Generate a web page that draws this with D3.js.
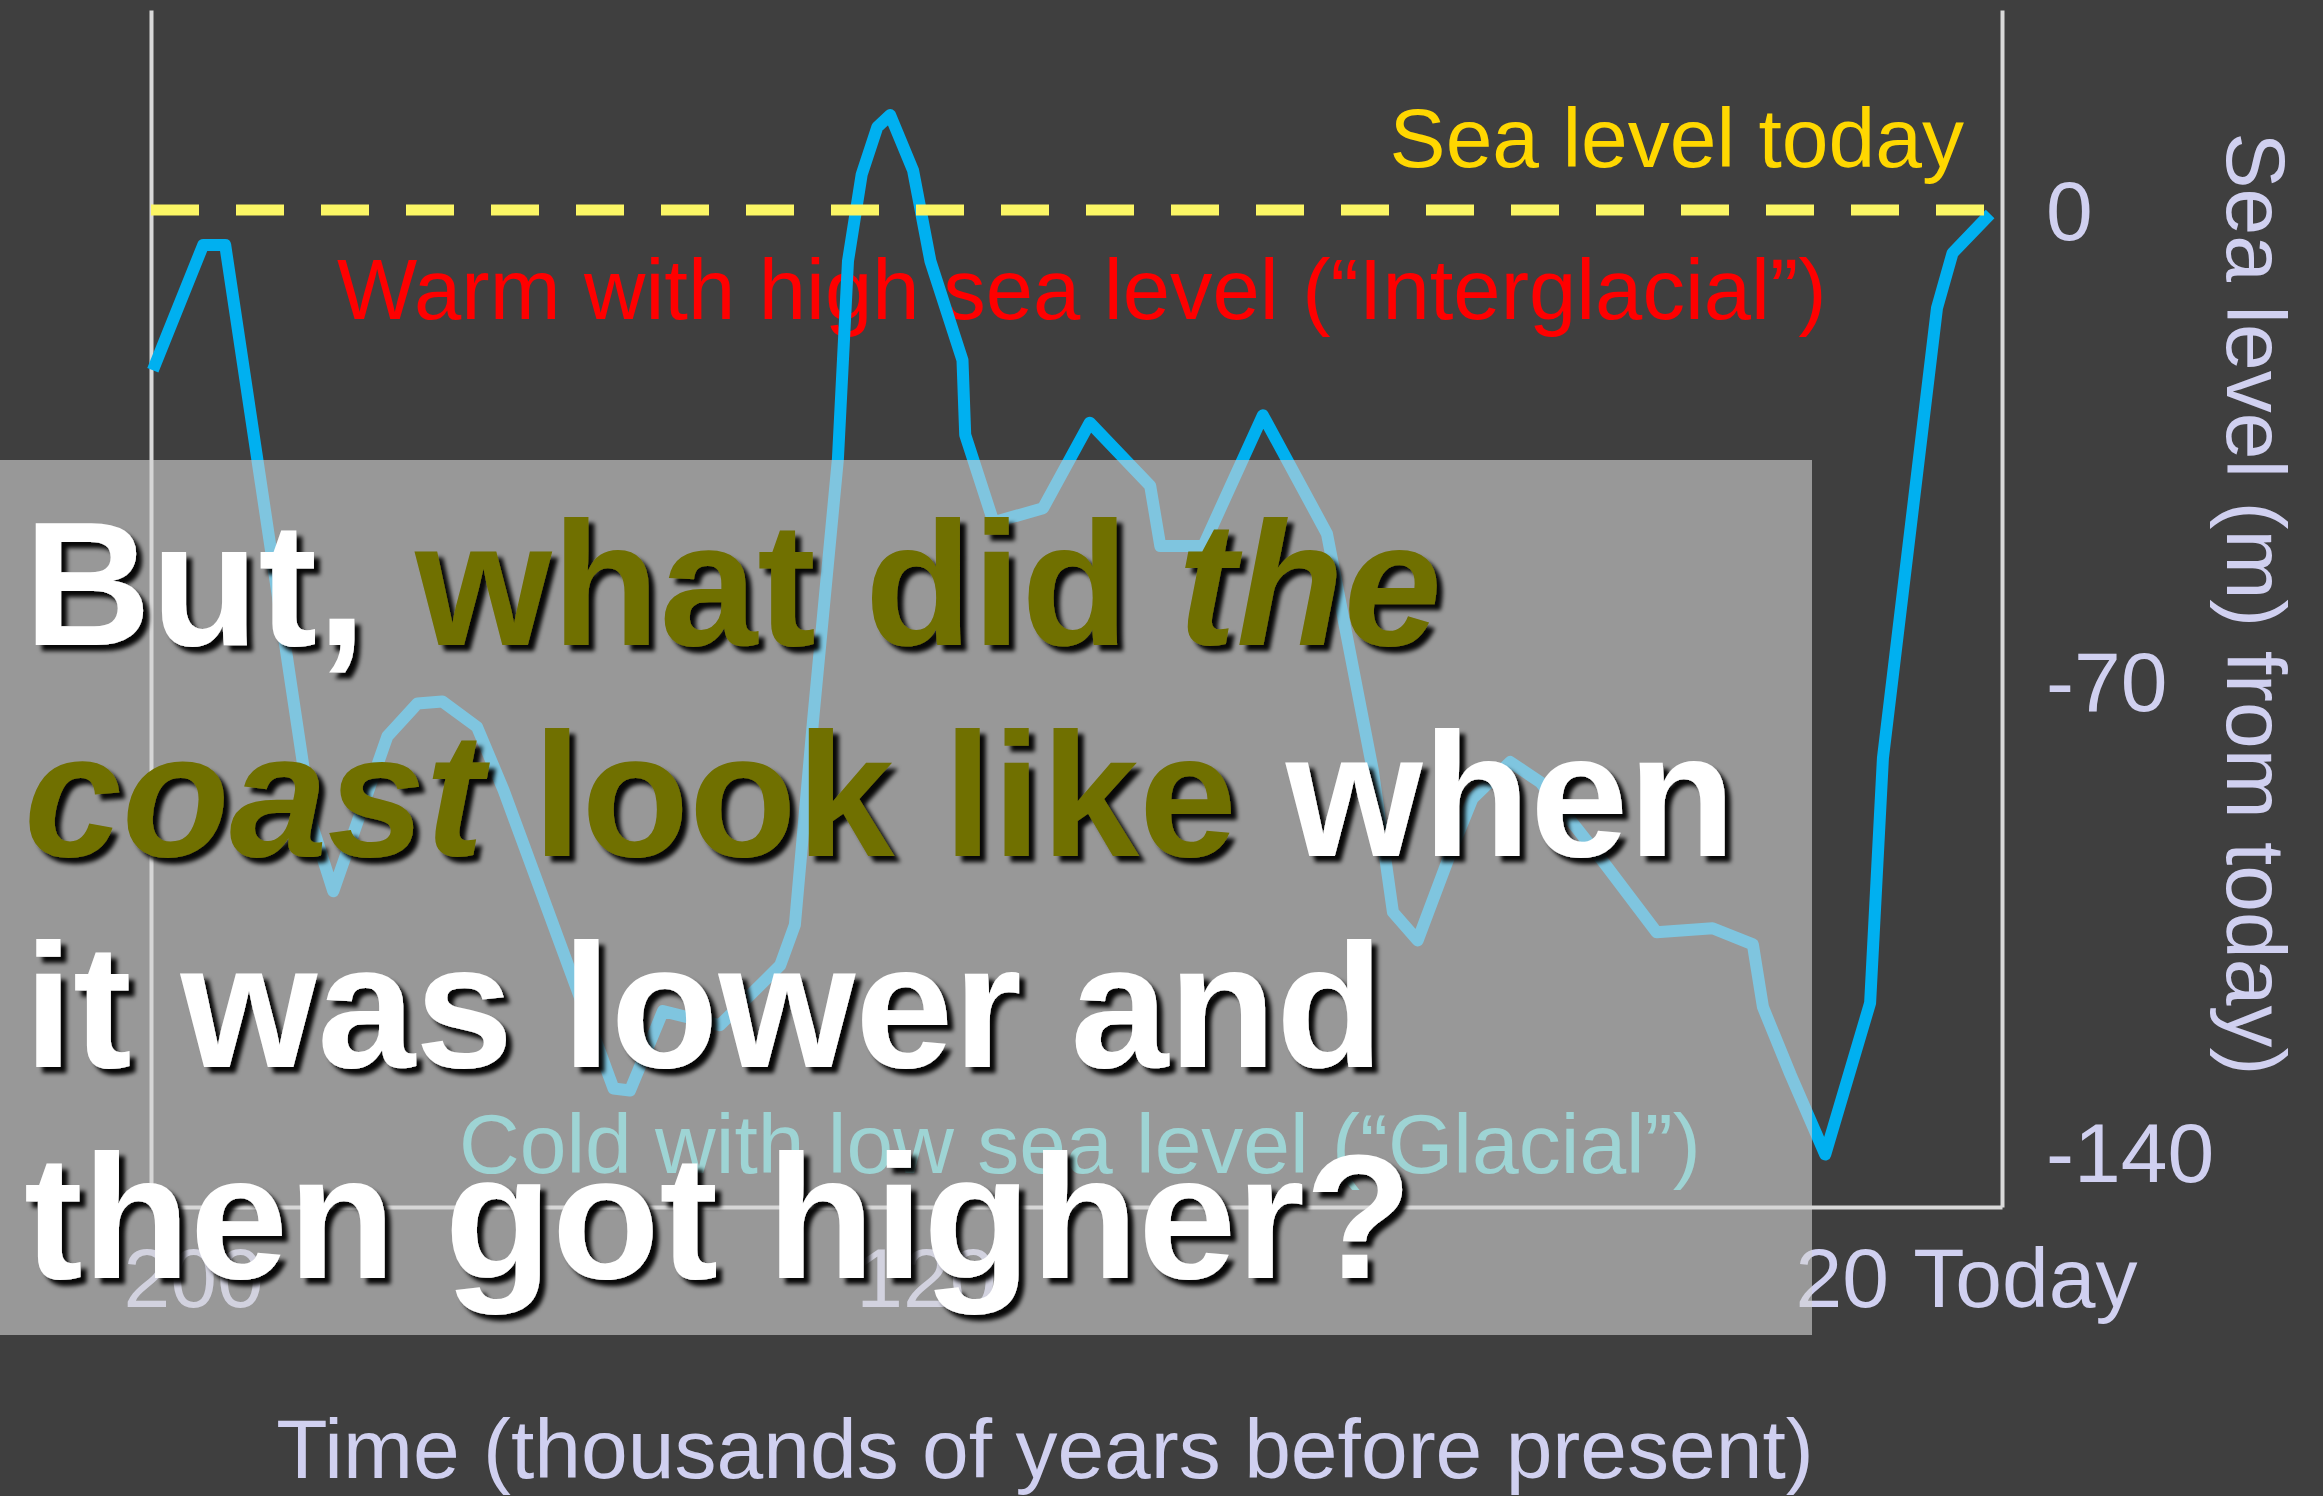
<!DOCTYPE html>
<html>
<head>
<meta charset="utf-8">
<script src="https://cdn.jsdelivr.net/npm/d3@7"></script>
<style>
body { margin: 0; background: #3f3f3f; }
svg { display: block; }
text { font-family: "Liberation Sans", Arial, sans-serif; }
</style>
</head>
<body>
<div id="vis"></div>
<script>
var w = 2323,
    h = 1496;

// thousands of years before present
var ages = [204.4, 198.9, 196.5, 187.0, 184.7, 178.8, 175.5, 172.8, 169.0, 166.1,
            154.1, 152.3, 148.7, 142.5, 135.9, 134.3, 132.3, 129.6, 128.5, 127.0,
            125.3, 123.9, 121.4, 119.5, 116.0, 115.7, 112.6, 107.2, 102.1, 95.5,
            94.4, 89.7, 83.2, 76.2, 71.2, 69.0, 66.3, 62.4, 60.3, 56.2,
            52.9, 46.1, 40.2, 34.1, 29.7, 28.6, 25.6, 21.8, 16.9, 15.5,
            9.6, 7.9, 3.8];
// sea level (m) relative to today
var seaLevel = [-23.8, -5.2, -5.2, -91.4, -101.2, -78.2, -73.3, -73.0, -76.8, -86.2,
                -130.5, -130.8, -119.0, -121.1, -112.2, -106.2, -75.6, -37.0, -7.6, 5.3,
                12.3, 14.1, 5.9, -7.6, -22.3, -33.4, -46.4, -44.3, -31.6, -41.0,
                -49.9, -49.9, -30.5, -48.1, -83.2, -104.3, -108.5, -94.4, -87.4, -82.0,
                -85.0, -96.7, -107.3, -106.7, -109.1, -118.4, -128.4, -140.3, -117.8, -81.4,
                -14.6, -6.4, -0.6];

var xTicks = [200, 120, 20, 0];
var xTickLabels = ["200", "120", "20", "Today"];
var yTicks = [0, -70, -140];
var yTickLabels = ["0", "-70", "-140"];

var labelColor = "#d0d0f0";

var svg = d3.select("#vis").append("svg")
    .attr("width", w)
    .attr("height", h);

svg.append("rect")
    .attr("width", w)
    .attr("height", h)
    .attr("fill", "#3f3f3f");

var defs = svg.append("defs");
defs.append("filter")
    .attr("id", "shadow")
    .attr("x", "-5%").attr("y", "-10%")
    .attr("width", "115%").attr("height", "130%")
  .append("feDropShadow")
    .attr("dx", 6)
    .attr("dy", 6)
    .attr("stdDeviation", 2)
    .attr("flood-color", "#000")
    .attr("flood-opacity", 0.95);

var x = d3.scaleLinear().domain([204.6, 2.5]).range([151, 2002]);
var y = d3.scaleLinear().domain([-148.1, 29.7]).range([1207, 10]);

// axes
var styleAxis = function(g){
    g.select(".domain").attr("stroke", "#d9d9d9").attr("stroke-width", 4);
    g.selectAll(".tick line").remove();
    g.selectAll("text")
        .attr("fill", labelColor)
        .style("font-size", "84px");
}

svg.append("g")
    .attr("transform", "translate(" + x.range()[0] + ",0)")
    .call(d3.axisLeft(y).tickValues([]).tickSizeOuter(0))
    .call(styleAxis);

svg.append("g")
    .attr("transform", "translate(" + x.range()[1] + ",0)")
    .call(d3.axisRight(y).tickValues(yTicks).tickSize(0).tickPadding(44).tickSizeOuter(0)
        .tickFormat(function(d, i){ return yTickLabels[i]; }))
    .call(styleAxis)
    .selectAll("text").attr("dy", "0.35em");

svg.append("g")
    .attr("transform", "translate(0," + y.range()[0] + ")")
    .call(d3.axisBottom(x).tickValues(xTicks).tickSize(0).tickSizeOuter(0)
        .tickFormat(function(d, i){ return xTickLabels[i]; }))
    .call(styleAxis)
    .selectAll("text").attr("dy", null).attr("y", 100);

// red label
svg.append("text")
    .attr("x", 337)
    .attr("y", 319)
    .attr("fill", "#ff0000")
    .style("font-size", "85px")
    .text("Warm with high sea level (\u201cInterglacial\u201d)");

// sea level curve
var line = d3.line()
    .x(function(d){ return x(d[0]); })
    .y(function(d){ return y(d[1]); });

svg.append("path")
    .datum(d3.zip(ages, seaLevel))
    .attr("d", line)
    .attr("fill", "none")
    .attr("stroke", "#00b0f0")
    .attr("stroke-width", 12)
    .attr("stroke-linejoin", "round");

// today's level
svg.append("line")
    .attr("x1", x.range()[0])
    .attr("x2", x.range()[1])
    .attr("y1", y(0))
    .attr("y2", y(0))
    .attr("stroke", "#fbf665")
    .attr("stroke-width", 11)
    .attr("stroke-dasharray", "48,37");

svg.append("text")
    .attr("x", 1964)
    .attr("y", 167)
    .attr("text-anchor", "end")
    .attr("fill", "#ffd700")
    .style("font-size", "84px")
    .text("Sea level today");

svg.append("text")
    .attr("transform", "translate(2227,604) rotate(90)")
    .attr("text-anchor", "middle")
    .attr("fill", labelColor)
    .style("font-size", "84px")
    .text("Sea level (m) from today)");

svg.append("text")
    .attr("x", 1045)
    .attr("y", 1478)
    .attr("text-anchor", "middle")
    .attr("fill", labelColor)
    .style("font-size", "84px")
    .text("Time (thousands of years before present)");

// translucent panel
svg.append("rect")
    .attr("x", 0)
    .attr("y", 460)
    .attr("width", 1812)
    .attr("height", 875)
    .attr("fill", "#d4d4d4")
    .attr("fill-opacity", 0.6);

svg.append("text")
    .attr("x", 459)
    .attr("y", 1173)
    .attr("fill", "#9ed4d4")
    .style("font-size", "84px")
    .text("Cold with low sea level (\u201cGlacial\u201d)");

// question
var white = "#ffffff", olive = "#706f00";
var question = [
    [["But, ", white, false], ["what did ", olive, false], ["the", olive, true]],
    [["coast", olive, true], [" look like ", olive, false], ["when", white, false]],
    [["it was lower and", white, false]],
    [["then got higher?", white, false]]
];

var q = svg.append("g").attr("filter", "url(#shadow)");
question.forEach(function(parts, i){
    var t = q.append("text")
        .attr("x", 24)
        .attr("y", 645 + i * 211)
        .style("font-size", "176px")
        .style("font-weight", "bold")
        .attr("xml:space", "preserve");
    parts.forEach(function(p){
        t.append("tspan")
            .attr("fill", p[1])
            .style("font-style", p[2] ? "italic" : "normal")
            .text(p[0]);
    });
});
</script>
</body>
</html>
